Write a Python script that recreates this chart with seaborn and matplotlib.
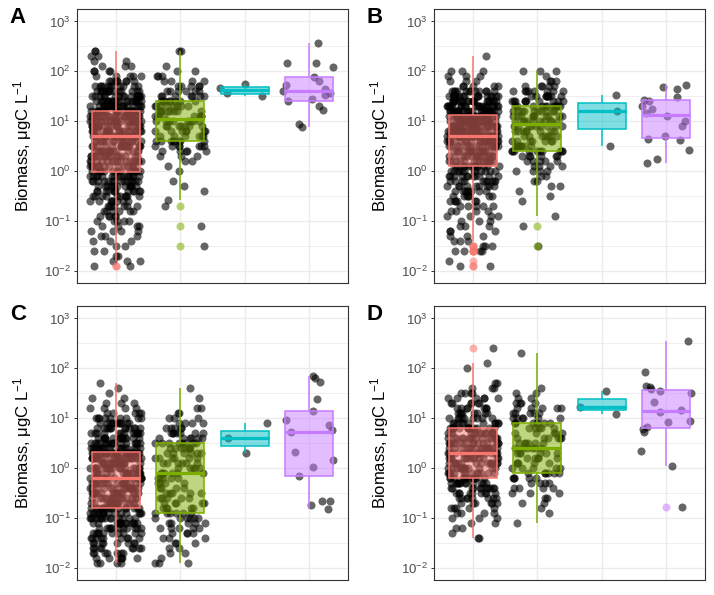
"""
Biomass per group on a log axis, four panels (A-D):
jittered samples in black with coloured box plots on top.
"""

import numpy as np
import pandas as pd
import matplotlib
matplotlib.use("Agg")
import matplotlib.pyplot as plt
from matplotlib.ticker import FixedLocator, NullFormatter
import seaborn as sns

GROUPS = ["G1", "G2", "G3", "G4"]
PALETTE = ["#F8766D", "#7CAE00", "#00BFC4", "#C77CFF"]
PANELS = ["A", "B", "C", "D"]

# big groups: (log10 biomass, number of samples read at that level)
A_G1 = [(-1.9, 2), (-1.8, 3), (-1.7, 2), (-1.6, 2), (-1.5, 2), (-1.4, 3), (-1.3, 3), (-1.2, 4),
        (-1.1, 4), (-1.0, 5), (-0.9, 5), (-0.8, 6), (-0.7, 7), (-0.6, 8), (-0.5, 10), (-0.4, 12),
        (-0.3, 13), (-0.2, 14), (-0.1, 15), (0.0, 15), (0.1, 15), (0.2, 16), (0.3, 16), (0.4, 16),
        (0.5, 17), (0.6, 17), (0.7, 20), (0.8, 22), (0.9, 23), (1.0, 24), (1.1, 24), (1.2, 24),
        (1.3, 22), (1.4, 20), (1.5, 18), (1.6, 14), (1.7, 11), (1.8, 8), (1.9, 5), (2.0, 4),
        (2.1, 3), (2.2, 2), (2.3, 2), (2.4, 2)]
A_G2 = [(-1.5, 1), (-1.1, 1), (-0.7, 1), (-0.58, 1), (-0.4, 1), (-0.3, 1), (-0.2, 1), (0.0, 1),
        (0.1, 1), (0.2, 2), (0.3, 3), (0.4, 5), (0.5, 7), (0.6, 8), (0.7, 6), (0.8, 7), (0.9, 7),
        (1.0, 8), (1.1, 8), (1.2, 8), (1.3, 8), (1.4, 8), (1.5, 7), (1.6, 6), (1.7, 5), (1.8, 4),
        (1.9, 3), (2.0, 2), (2.1, 1), (2.4, 2)]
B_G1 = [(-1.9, 2), (-1.8, 1), (-1.6, 4), (-1.5, 3), (-1.4, 3), (-1.3, 3), (-1.2, 3), (-1.1, 3),
        (-1.0, 3), (-0.9, 4), (-0.8, 4), (-0.7, 5), (-0.6, 6), (-0.5, 7), (-0.4, 8), (-0.3, 9),
        (-0.2, 10), (-0.1, 11), (0.0, 12), (0.1, 13), (0.2, 14), (0.3, 15), (0.4, 16), (0.5, 17),
        (0.6, 20), (0.7, 26), (0.8, 24), (0.9, 26), (1.0, 28), (1.1, 30), (1.2, 24), (1.3, 22),
        (1.4, 20), (1.5, 17), (1.6, 12), (1.7, 5), (1.8, 3), (1.9, 3), (2.0, 3), (2.3, 1)]
B_G2 = [(-1.5, 1), (-1.1, 1), (-0.9, 1), (-0.6, 1), (-0.5, 1), (-0.4, 1), (-0.3, 2), (-0.2, 2),
        (-0.1, 2), (0.0, 4), (0.1, 4), (0.2, 5), (0.3, 6), (0.4, 10), (0.5, 8), (0.6, 7), (0.7, 7),
        (0.8, 8), (0.9, 9), (1.0, 10), (1.1, 10), (1.2, 10), (1.3, 11), (1.4, 10), (1.5, 9),
        (1.6, 8), (1.7, 5), (1.8, 3), (1.9, 1), (2.0, 3)]
C_G1 = [(-1.9, 4), (-1.8, 6), (-1.7, 7), (-1.6, 8), (-1.5, 8), (-1.4, 9), (-1.3, 10), (-1.2, 11),
        (-1.1, 13), (-1.0, 14), (-0.9, 15), (-0.8, 16), (-0.7, 16), (-0.6, 16), (-0.5, 17),
        (-0.4, 17), (-0.3, 17), (-0.2, 17), (-0.1, 18), (0.0, 19), (0.1, 20), (0.2, 24), (0.3, 28),
        (0.4, 18), (0.5, 16), (0.6, 14), (0.7, 13), (0.8, 12), (0.9, 11), (1.0, 9), (1.1, 5),
        (1.2, 4), (1.3, 3), (1.4, 2), (1.5, 1), (1.6, 1), (1.7, 1)]
C_G2 = [(-1.9, 3), (-1.8, 1), (-1.7, 2), (-1.6, 2), (-1.5, 3), (-1.4, 3), (-1.3, 4), (-1.2, 5),
        (-1.1, 5), (-1.0, 6), (-0.9, 6), (-0.8, 5), (-0.7, 5), (-0.6, 5), (-0.5, 5), (-0.4, 4),
        (-0.3, 4), (-0.2, 5), (-0.1, 6), (0.0, 5), (0.1, 6), (0.2, 6), (0.3, 6), (0.4, 7), (0.5, 8),
        (0.6, 6), (0.7, 7), (0.8, 5), (0.9, 4), (1.0, 3), (1.1, 2), (1.2, 2), (1.4, 1), (1.6, 1)]
D_G1 = [(-1.4, 2), (-1.3, 1), (-1.2, 2), (-1.1, 2), (-1.0, 3), (-0.9, 4), (-0.8, 5), (-0.7, 6),
        (-0.6, 8), (-0.5, 9), (-0.4, 11), (-0.3, 12), (-0.2, 13), (-0.1, 13), (0.0, 14),
        (0.1, 14), (0.2, 14), (0.3, 15), (0.4, 15), (0.5, 15), (0.6, 15), (0.7, 14), (0.8, 14),
        (0.9, 11), (1.0, 9), (1.1, 8), (1.2, 7), (1.3, 6), (1.4, 6), (1.5, 4), (1.6, 3),
        (1.7, 2), (2.0, 1), (2.1, 1), (2.4, 1)]
D_G2 = [(-1.1, 1), (-0.9, 1), (-0.8, 1), (-0.7, 2), (-0.6, 2), (-0.5, 3), (-0.4, 4), (-0.3, 4),
        (-0.2, 5), (-0.1, 6), (0.0, 5), (0.1, 5), (0.2, 5), (0.3, 6), (0.4, 6), (0.5, 6), (0.6, 6),
        (0.7, 5), (0.8, 5), (0.9, 6), (1.0, 6), (1.1, 5), (1.2, 5), (1.3, 4), (1.4, 2), (1.5, 2),
        (1.6, 1), (2.3, 1)]

# small groups: log10 biomass of every sample
A_G3 = [1.50, 1.57, 1.67, 1.74]
A_G4 = [0.89, 0.94, 1.22, 1.30, 1.40, 1.45, 1.52, 1.57, 1.60, 1.65, 1.72, 1.80, 1.89, 2.09,
        2.17, 2.17, 2.57]
B_G3 = [0.50, 1.20, 1.52]
B_G4 = [0.15, 0.23, 0.42, 0.62, 0.65, 0.70, 0.90, 1.00, 1.10, 1.16, 1.25, 1.30, 1.40, 1.43,
        1.49, 1.65, 1.68, 1.72]
C_G3 = [0.29, 0.60, 0.90]
C_G4 = [-0.83, -0.75, -0.67, -0.67, -0.17, 0.01, 0.15, 0.31, 0.72, 0.77, 0.87, 0.97, 1.15,
        1.39, 1.72, 1.80, 1.85]
D_G3 = [1.09, 1.23, 1.55]
D_G4 = [-0.78, 0.03, 0.33, 0.73, 0.78, 0.83, 0.92, 0.95, 1.12, 1.16, 1.32, 1.51, 1.55, 1.58,
        1.63, 1.65, 1.93, 2.55]

PANEL_DATA = {
    "A": (A_G1, A_G2, A_G3, A_G4),
    "B": (B_G1, B_G2, B_G3, B_G4),
    "C": (C_G1, C_G2, C_G3, C_G4),
    "D": (D_G1, D_G2, D_G3, D_G4),
}


def expand(pairs):
    levels, counts = zip(*pairs)
    return np.repeat(levels, counts)


def panel_frame(g1, g2, g3, g4):
    parts = []
    for name, vals in zip(GROUPS, [expand(g1), expand(g2), g3, g4]):
        parts.append(pd.DataFrame({"group": name, "biomass": 10.0 ** np.asarray(vals, float)}))
    return pd.concat(parts, ignore_index=True)


def draw_panel(ax, df):
    sns.stripplot(data=df, x="group", y="biomass", order=GROUPS, color="black",
                  alpha=0.6, size=5.8, jitter=0.4, linewidth=0, log_scale=True,
                  zorder=1, ax=ax)
    sns.boxplot(data=df, x="group", y="biomass", order=GROUPS, hue="group",
                hue_order=GROUPS, palette=PALETTE, saturation=1, width=0.75,
                linewidth=1.1, showcaps=False, whis=1.5, log_scale=True,
                legend=False, ax=ax,
                flierprops=dict(marker="o", markersize=5.8, markeredgewidth=0),
                medianprops=dict(linewidth=2.3))

    # ggplot-like boxes: coloured outline, half transparent fill
    for patch in ax.patches:
        fc = patch.get_facecolor()
        patch.set_edgecolor(fc[:3])
        patch.set_facecolor((fc[0], fc[1], fc[2], 0.5))
    for line in ax.lines:
        x = np.asarray(line.get_xdata(), dtype=float)
        if x.size == 0:
            continue
        c = PALETTE[int(round(np.nanmean(x)))]
        line.set_color(c)
        if line.get_marker() == "o":
            line.set_markerfacecolor(c)
            line.set_markeredgecolor(c)
            line.set_alpha(0.55)

    ax.set_xlim(-0.6, 3.6)
    ax.set_ylim(10 ** -2.25, 10 ** 3.25)
    ax.yaxis.set_major_locator(FixedLocator([10.0 ** k for k in range(-2, 4)]))
    ax.yaxis.set_minor_locator(FixedLocator([10.0 ** (k + 0.5) for k in range(-3, 4)]))
    ax.yaxis.set_minor_formatter(NullFormatter())
    ax.set_xticks(range(len(GROUPS)))
    ax.set_xticklabels([])
    ax.set_xlabel("")
    ax.set_ylabel("Biomass, μgC L$^{-1}$", fontsize=12, color="black")
    ax.yaxis.set_label_coords(-0.16, 0.5)

    ax.set_axisbelow(True)
    ax.grid(which="major", color="#EBEBEB", linewidth=1.0)
    ax.grid(which="minor", axis="y", color="#EBEBEB", linewidth=0.55)
    ax.tick_params(axis="x", length=0)
    ax.tick_params(axis="y", which="major", length=2.5, width=0.7, color="#333333",
                   labelsize=9.5, labelcolor="#4D4D4D", pad=2)
    ax.tick_params(axis="y", which="minor", length=0)
    for spine in ax.spines.values():
        spine.set_color("#333333")
        spine.set_linewidth(0.8)


plt.rcParams["font.family"] = ["Liberation Sans", "DejaVu Sans"]
plt.rcParams["mathtext.fontset"] = "custom"
plt.rcParams["mathtext.rm"] = "Liberation Sans"
plt.rcParams["mathtext.it"] = "Liberation Sans:italic"
plt.rcParams["mathtext.bf"] = "Liberation Sans:bold"

np.random.seed(7)
fig = plt.figure(figsize=(7.14, 5.95), dpi=100)
W, H = 714, 595
# axes boxes in pixels: left, top
boxes = {"A": (77, 9), "B": (434, 9), "C": (77, 306), "D": (434, 306)}
for letter in PANELS:
    left, top = boxes[letter]
    ax = fig.add_axes([left / W, 1 - (top + 274) / H, 271 / W, 274 / H])
    draw_panel(ax, panel_frame(*PANEL_DATA[letter]))
    fig.text((left - 59) / W, 1 - (top + 8.5) / H, letter, fontsize=16,
             fontweight="bold", ha="center", va="center")

fig.savefig("out.png", dpi=100, facecolor="white")
